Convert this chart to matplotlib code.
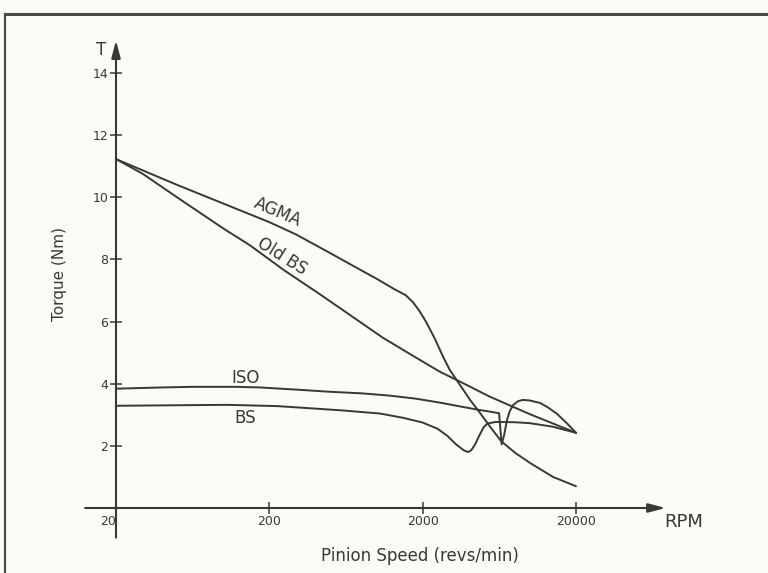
#!/usr/bin/env python3
import matplotlib
matplotlib.use("Agg")
import matplotlib.pyplot as plt
from matplotlib.lines import Line2D
from matplotlib.ticker import NullLocator

# ---------------------------------------------------------
# data (rpm, torque in Nm)
# ---------------------------------------------------------
AGMA_RPM = [20, 50, 100, 200, 300, 500, 700, 1000, 1300, 1550, 1731, 1900,
            2100, 2400, 2717, 3000, 3350, 4075, 4730, 5500, 6500, 8000,
            10030, 14160, 20000]
AGMA_T = [11.23, 10.40, 9.80, 9.20, 8.80, 8.20, 7.80, 7.38, 7.05, 6.85, 6.62,
          6.35, 6.00, 5.45, 4.87, 4.45, 4.10, 3.48, 3.06, 2.62, 2.15, 1.78,
          1.45, 1.00, 0.70]

OLDBS_RPM = [20, 30, 50, 100, 150, 250, 410, 700, 1100, 1700, 2600, 3400,
             5500, 10000, 20000]
OLDBS_T = [11.23, 10.75, 10.00, 9.00, 8.45, 7.65, 6.94, 6.15, 5.48, 4.92,
           4.38, 4.10, 3.58, 3.02, 2.42]

ISO_RPM = [20, 40, 64, 120, 174, 300, 500, 800, 1200, 1800, 2600, 3500,
           4500, 5500, 6300, 6550, 6800, 7100, 7400, 7800, 8400, 9030,
           10000, 11670, 13000, 15050, 17500, 20000]
ISO_T = [3.84, 3.88, 3.90, 3.90, 3.88, 3.81, 3.74, 3.69, 3.62, 3.52, 3.39,
         3.27, 3.17, 3.10, 3.05, 2.05, 2.35, 2.84, 3.12, 3.32, 3.44, 3.48,
         3.46, 3.38, 3.25, 3.03, 2.72, 2.42]

BS_RPM = [20, 60, 106, 224, 369, 600, 1055, 1500, 2000, 2500, 2900, 3300,
          3700, 3950, 4150, 4400, 4700, 5000, 5300, 6000, 8000, 10000,
          14000, 20000]
BS_T = [3.29, 3.31, 3.32, 3.28, 3.21, 3.14, 3.04, 2.90, 2.75, 2.55, 2.32,
        2.05, 1.86, 1.80, 1.86, 2.05, 2.35, 2.60, 2.72, 2.77, 2.76, 2.73,
        2.62, 2.42]

X_TICKS = [20, 200, 2000, 20000]
X_TICK_LABELS = ["20", "200", "2000", "20000"]
Y_TICKS = [2, 4, 6, 8, 10, 12, 14]
Y_TICK_LABELS = ["2", "4", "6", "8", "10", "12", "14"]

INK = "#383838"
PAPER = "#fbfbf8"
FONT = "DejaVu Sans"


def main():
    plt.rcParams["font.family"] = [FONT]

    fig = plt.figure(figsize=(7.68, 5.73), dpi=100, facecolor=PAPER)
    ax = fig.add_axes([116 / 768, 65 / 573, 460 / 768, 435 / 573])
    ax.set_facecolor(PAPER)
    ax.patch.set_alpha(0)

    # -----------------------------------------------------
    # curves
    # -----------------------------------------------------
    for xs, ys in [(AGMA_RPM, AGMA_T), (OLDBS_RPM, OLDBS_T),
                   (ISO_RPM, ISO_T), (BS_RPM, BS_T)]:
        ax.plot(xs, ys, color=INK, lw=1.4, solid_joinstyle="round",
                solid_capstyle="round", clip_on=False)

    ax.set_xscale("log")
    ax.set_xlim(20, 20000)
    ax.set_ylim(0, 14)

    # -----------------------------------------------------
    # axes drawn as arrows, ticks crossing them
    # -----------------------------------------------------
    for s in ax.spines.values():
        s.set_visible(False)

    arrow = dict(arrowstyle="-|>,head_length=0.65,head_width=0.17",
                 color=INK, lw=1.5, mutation_scale=16,
                 shrinkA=0, shrinkB=0)
    ax.annotate("", xy=(0, 1.075), xytext=(0, -0.068),
                xycoords="axes fraction", arrowprops=arrow)
    ax.annotate("", xy=(1.195, 0), xytext=(-0.067, 0),
                xycoords="axes fraction", arrowprops=arrow)

    ax.set_xticks(X_TICKS)
    ax.set_xticklabels(X_TICK_LABELS)
    ax.xaxis.set_minor_locator(NullLocator())
    ax.set_yticks(Y_TICKS)
    ax.set_yticklabels(Y_TICK_LABELS)
    ax.tick_params(axis="x", direction="inout", length=8, width=1.1,
                   color=INK, labelcolor=INK, labelsize=9, pad=1)
    ax.tick_params(axis="y", direction="inout", length=9, width=1.1,
                   color=INK, labelcolor=INK, labelsize=9, pad=1)
    ax.get_xticklabels()[0].set_horizontalalignment("right")

    # -----------------------------------------------------
    # labels
    # -----------------------------------------------------
    ax.text(-0.033, 1.053, "T", transform=ax.transAxes, ha="center",
            va="center", fontsize=12, color=INK)
    ax.text(1.235, -0.032, "RPM", transform=ax.transAxes, ha="center",
            va="center", fontsize=13, color=INK)
    ax.text(0.661, -0.11, "Pinion Speed (revs/min)", transform=ax.transAxes,
            ha="center", va="center", fontsize=12, color=INK)
    ax.text(-0.122, 0.538, "Torque (Nm)", transform=ax.transAxes,
            ha="center", va="center", rotation=90, fontsize=11, color=INK)

    ax.text(228, 9.52, "AGMA", rotation=-23, rotation_mode="anchor",
            ha="center", va="center", fontsize=12, color=INK)
    ax.text(242, 8.10, "Old BS", rotation=-32, rotation_mode="anchor",
            ha="center", va="center", fontsize=12, color=INK)
    ax.text(141, 4.19, "ISO", ha="center", va="center", fontsize=12,
            color=INK)
    ax.text(139, 2.90, "BS", ha="center", va="center", fontsize=12,
            color=INK)

    # -----------------------------------------------------
    # page frame (top rule and left rule of the scan)
    # -----------------------------------------------------
    fig.add_artist(Line2D([5 / 768, 1], [1 - 14 / 573, 1 - 14 / 573],
                          transform=fig.transFigure, color="#4a4a4a", lw=2.2))
    fig.add_artist(Line2D([5 / 768, 5 / 768], [0, 1 - 14 / 573],
                          transform=fig.transFigure, color="#4a4a4a", lw=1.6))

    fig.savefig("out.png", dpi=100, facecolor=PAPER)
    plt.close(fig)


if __name__ == "__main__":
    main()
